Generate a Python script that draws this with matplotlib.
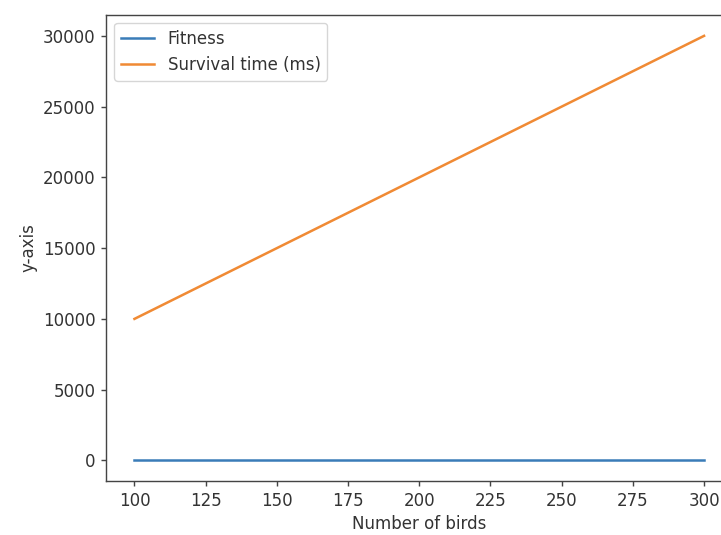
import matplotlib
matplotlib.use("Agg")
import matplotlib.pyplot as plt

# data
birds = [100, 150, 200, 250, 300]
fitness = [30, 30, 30, 30, 30]
survival_ms = [10000, 15000, 20000, 25000, 30000]

scale = 1.13
text_grey = '#333333'
plt.rcParams['font.size'] = 12
plt.rcParams['text.color'] = text_grey
plt.rcParams['axes.labelcolor'] = text_grey
plt.rcParams['xtick.color'] = '#444444'
plt.rcParams['ytick.color'] = '#444444'
plt.rcParams['xtick.labelcolor'] = text_grey
plt.rcParams['ytick.labelcolor'] = text_grey
plt.rcParams['axes.edgecolor'] = '#444444'
plt.rcParams['axes.linewidth'] = 0.9 * scale
plt.rcParams['xtick.major.size'] = 3.5 * scale
plt.rcParams['ytick.major.size'] = 3.5 * scale
plt.rcParams['xtick.major.width'] = 0.9 * scale
plt.rcParams['ytick.major.width'] = 0.9 * scale

fig = plt.figure(figsize=(7.21, 5.35), dpi=100)
# axes run past the right edge: the reference is cropped there
ax = fig.add_axes([0.147, 0.1006, 0.869, 0.872])

ax.plot(birds, fitness, label='Fitness', linewidth=1.6 * scale, color='#3a7cb8')
ax.plot(birds, survival_ms, label='Survival time (ms)', linewidth=1.6 * scale, color='#f08a34')

ax.set_xlabel('Number of birds')
ax.set_ylabel('y-axis')
ax.legend(loc='upper left')

fig.savefig('out.png', dpi=100)
